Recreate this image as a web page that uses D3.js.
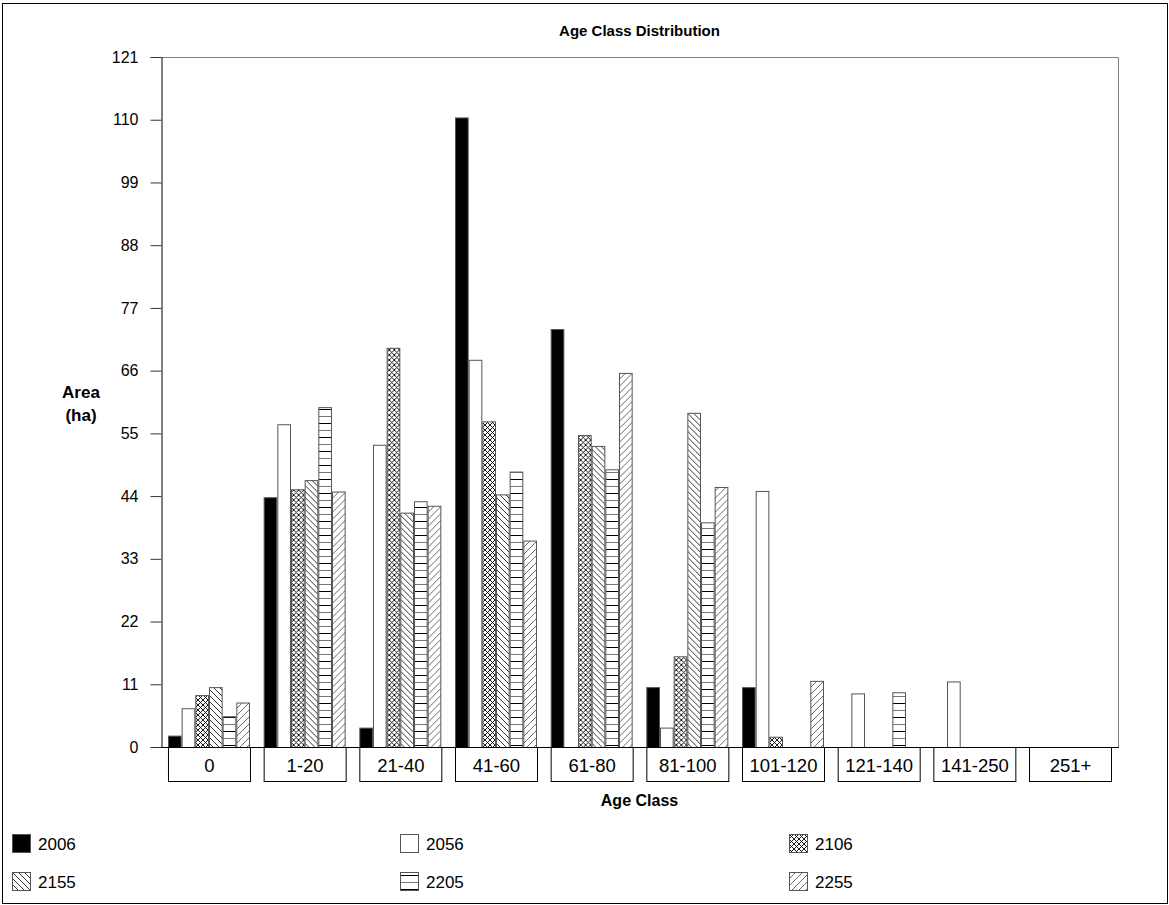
<!DOCTYPE html>
<html>
<head>
<meta charset="utf-8">
<script src="https://cdn.jsdelivr.net/npm/d3@7"></script>
<style>
  body { margin: 0; background: #fff; }
  text { font-family: "Liberation Sans", Arial, sans-serif; fill: #000; }
</style>
</head>
<body>
<script>
// data
const categories = ["0", "1-20", "21-40", "41-60", "61-80", "81-100", "101-120", "121-140", "141-250", "251+"];
const years = ["2006", "2056", "2106", "2155", "2205", "2255"];
const v2006 = [2, 43.8, 3.4, 110.4, 73.3, 10.5, 10.5, 0, 0, 0];
const v2056 = [6.8, 56.6, 53.0, 67.9, 0, 3.4, 44.9, 9.4, 11.5, 0];
const v2106 = [9.1, 45.2, 70.0, 57.1, 54.7, 15.9, 1.8, 0, 0, 0];
const v2155 = [10.5, 46.8, 41.1, 44.3, 52.8, 58.6, 0, 0, 0, 0];
const v2205 = [5.4, 59.6, 43.1, 48.3, 48.7, 39.4, 0, 9.6, 0, 0];
const v2255 = [7.8, 44.8, 42.3, 36.2, 65.6, 45.6, 11.6, 0, 0, 0];
const yTicks = [0, 11, 22, 33, 44, 55, 66, 77, 88, 99, 110, 121];

const series = [v2006, v2056, v2106, v2155, v2205, v2255];

const width = 1169, height = 905;
const margin = {top: 57, right: 51, bottom: 158, left: 161};

const svg = d3.select("body").append("svg")
    .attr("width", width)
    .attr("height", height);

// hatch patterns
const defs = svg.append("defs");
const p2106 = defs.append("pattern").attr("id", "p2106")
    .attr("patternUnits", "userSpaceOnUse").attr("width", 5).attr("height", 5);
p2106.append("rect").attr("width", 5).attr("height", 5).attr("fill", "#fff");
p2106.append("path").attr("d", "M0,0L5,5M0,5L5,0")
    .attr("stroke", "#000").attr("stroke-width", 0.9);

const p2155 = defs.append("pattern").attr("id", "p2155")
    .attr("patternUnits", "userSpaceOnUse").attr("width", 6).attr("height", 6);
p2155.append("rect").attr("width", 6).attr("height", 6).attr("fill", "#fff");
p2155.append("path").attr("d", "M0,0L6,6M-1,5L1,7M5,-1L7,1")
    .attr("stroke", "#000").attr("stroke-width", 0.8);

const p2205 = defs.append("pattern").attr("id", "p2205")
    .attr("patternUnits", "userSpaceOnUse").attr("width", 8).attr("height", 14);
p2205.append("rect").attr("width", 8).attr("height", 14).attr("fill", "#fff");
p2205.append("path").attr("d", "M0,3.5H8").attr("stroke", "#000").attr("stroke-width", 1);
p2205.append("path").attr("d", "M0,10.5H8").attr("stroke", "#777").attr("stroke-width", 1);

const p2255 = defs.append("pattern").attr("id", "p2255")
    .attr("patternUnits", "userSpaceOnUse").attr("width", 7).attr("height", 7);
p2255.append("rect").attr("width", 7).attr("height", 7).attr("fill", "#fff");
p2255.append("path").attr("d", "M0,7L7,0M-1,1L1,-1M6,8L8,6")
    .attr("stroke", "#444").attr("stroke-width", 0.8);

const fills = ["#000", "#fff", "url(#p2106)", "url(#p2155)", "url(#p2205)", "url(#p2255)"];

// outer frame
svg.append("rect")
    .attr("x", 2.5).attr("y", 3.5)
    .attr("width", width - 4).attr("height", height - 5)
    .attr("fill", "none").attr("stroke", "#000");

const x0 = d3.scaleBand()
    .domain(categories)
    .range([margin.left, width - margin.right])
    .paddingInner(0.143)
    .paddingOuter(0.073);

const x1 = d3.scaleBand()
    .domain(years)
    .range([0, x0.bandwidth()]);

const y = d3.scaleLinear()
    .domain([0, 121])
    .range([height - margin.bottom, margin.top]);

// plot frame: grey top/right
svg.append("path")
    .attr("d", `M${margin.left - 11},${margin.top + 0.5}H${width - margin.right + 0.5}V${height - margin.bottom}`)
    .attr("fill", "none").attr("stroke", "#808080");

// bars
categories.forEach((c, i) => {
  const g = svg.append("g").attr("transform", `translate(${x0(c)},0)`);
  g.selectAll("rect")
    .data(years.map((yr, k) => ({yr, k, v: series[k][i]})).filter(d => d.v > 0))
    .join("rect")
      .attr("x", d => x1(d.yr) + 0.5)
      .attr("y", d => y(d.v) + 0.5)
      .attr("width", x1.bandwidth() - 1)
      .attr("height", d => y(0) - y(d.v))
      .attr("fill", d => fills[d.k])
      .attr("stroke", "#555")
      .attr("stroke-width", 1);
});

// y axis
svg.append("g")
    .attr("transform", `translate(${margin.left + 0.5},0)`)
    .call(d3.axisLeft(y).tickValues(yTicks).tickSize(11).tickPadding(12).tickSizeOuter(0))
    .call(g => g.select(".domain").attr("stroke", "#000"))
    .call(g => g.selectAll(".tick line").attr("stroke", "#333"))
    .call(g => g.selectAll("text")
        .style("font-family", "'Liberation Sans', Arial, sans-serif")
        .style("font-size", "16px"));

// baseline
svg.append("line")
    .attr("x1", margin.left).attr("x2", width - margin.right + 1)
    .attr("y1", y(0) + 0.5).attr("y2", y(0) + 0.5)
    .attr("stroke", "#000");

// category boxes
const catG = svg.append("g").selectAll("g")
  .data(categories)
  .join("g")
    .attr("transform", d => `translate(${x0(d)},${y(0)})`);
catG.append("rect")
    .attr("x", 0.5).attr("y", 0.5)
    .attr("width", x0.bandwidth()).attr("height", 34)
    .attr("fill", "#fff").attr("stroke", "#000");
catG.append("text")
    .attr("x", x0.bandwidth() / 2 + 0.5)
    .attr("y", 24.5)
    .attr("text-anchor", "middle")
    .style("font-size", "18.5px")
    .text(d => d);

// titles
const cx = (margin.left + width - margin.right) / 2;
svg.append("text")
    .attr("x", cx).attr("y", 36)
    .attr("text-anchor", "middle")
    .style("font-size", "15px").style("font-weight", "bold")
    .text("Age Class Distribution");
svg.append("text")
    .attr("x", cx).attr("y", 806)
    .attr("text-anchor", "middle")
    .style("font-size", "16px").style("font-weight", "bold")
    .text("Age Class");
svg.append("text")
    .attr("x", 81).attr("y", 398)
    .attr("text-anchor", "middle")
    .style("font-size", "17px").style("font-weight", "bold")
    .text("Area");
svg.append("text")
    .attr("x", 81).attr("y", 421)
    .attr("text-anchor", "middle")
    .style("font-size", "17px").style("font-weight", "bold")
    .text("(ha)");

// legend
const legX = [12, 400, 789];
const legY = [834, 872];
const leg = svg.append("g").selectAll("g")
  .data(years)
  .join("g")
    .attr("transform", (d, i) => `translate(${legX[i % 3]},${legY[Math.floor(i / 3)]})`);
leg.append("rect")
    .attr("x", 0.5).attr("y", 0.5)
    .attr("width", 18).attr("height", 18)
    .attr("fill", (d, i) => fills[i])
    .attr("stroke", "#555");
leg.append("text")
    .attr("x", 26).attr("y", 15.5)
    .style("font-size", "17px")
    .text(d => d);
</script>
</body>
</html>
